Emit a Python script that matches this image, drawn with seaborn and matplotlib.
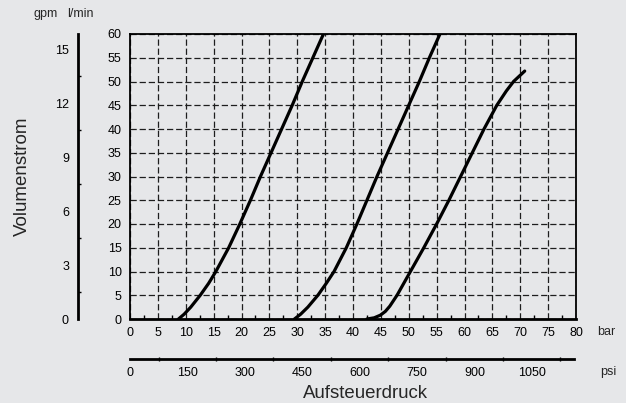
import matplotlib
matplotlib.use("Agg")
import matplotlib.pyplot as plt
import seaborn as sns
import pandas as pd
from matplotlib.ticker import MultipleLocator

# ---- data ----
c1_flow = [0, 1, 2.5, 5, 7.5, 10, 15, 20, 25, 30, 35, 40, 45, 50, 55, 60]
c1_bar = [8.7, 9.7, 10.9, 12.6, 14.1, 15.4, 17.7, 19.7, 21.6, 23.4, 25.3, 27.2, 29.1, 30.9, 32.8, 34.7]
c2_flow = [0, 1, 2.5, 5, 7.5, 10, 15, 20, 25, 30, 35, 40, 45, 50, 55, 60]
c2_bar = [29.5, 30.6, 31.9, 33.7, 35.2, 36.6, 38.8, 40.7, 42.5, 44.3, 46.2, 48.1, 50.0, 51.9, 53.7, 55.6]
c3_flow = [0, 0.25, 0.8, 1.6, 2.7, 5, 7.5, 10, 15, 20, 25, 30, 35, 40, 45, 48, 50, 52.2]
c3_bar = [42.5, 43.8, 44.9, 45.8, 46.6, 47.9, 49.1, 50.3, 52.7, 55.0, 57.2, 59.3, 61.4, 63.5, 65.8, 67.5, 68.8, 70.8]

bar_ticks = list(range(0, 85, 5))
flow_ticks = list(range(0, 65, 5))
gpm_ticks = [0, 3, 6, 9, 12, 15]
psi_ticks = [0, 150, 300, 450, 600, 750, 900, 1050]

LMIN_PER_GPM = 3.785
PSI_PER_BAR = 14.5038

df = pd.concat([
    pd.DataFrame({"bar": c1_bar, "flow": c1_flow, "curve": "A"}),
    pd.DataFrame({"bar": c2_bar, "flow": c2_flow, "curve": "B"}),
    pd.DataFrame({"bar": c3_bar, "flow": c3_flow, "curve": "C"}),
], ignore_index=True)

sns.set_theme(style="white")
bg = "#e6e7e9"
plt.rcParams["font.family"] = ["Liberation Sans", "DejaVu Sans"]
plt.rcParams["figure.facecolor"] = bg
plt.rcParams["axes.facecolor"] = bg

W, H = 626, 403
fig = plt.figure(figsize=(W / 100, H / 100), dpi=100)

L, R, B, T = 130 / W, 576 / W, 1 - 319 / H, 1 - 34 / H
ax = fig.add_axes([L, B, R - L, T - B])
ax.set_facecolor(bg)

sns.lineplot(data=df, x="bar", y="flow", hue="curve", units="curve",
             estimator=None, sort=False, palette=["black"] * 3,
             linewidth=2.3, legend=False, ax=ax, zorder=5,
             solid_joinstyle="round")

ax.set_xlim(0, 80)
ax.set_ylim(0, 60)
ax.set_xticks(bar_ticks)
ax.set_yticks(flow_ticks)
ax.set_xticklabels([str(v) for v in bar_ticks])
ax.set_yticklabels([str(v) for v in flow_ticks])
ax.xaxis.set_minor_locator(MultipleLocator(2.5))
ax.grid(True, which="major", color="#1e1e1e", linewidth=0.9, linestyle=(0, (5, 2.3)))
ax.tick_params(axis="x", which="major", direction="in", length=0, pad=6, labelsize=9, colors="black")
ax.tick_params(axis="x", which="minor", direction="in", length=3, width=1, color="black", bottom=True)
ax.tick_params(axis="y", which="major", length=0, pad=6, labelsize=9, colors="black")
for s in ax.spines.values():
    s.set_color("black")
    s.set_linewidth(1.3)
ax.spines["bottom"].set_linewidth(2)
ax.set_xlabel("")
ax.set_ylabel("")

# gpm axis (left)
gx = fig.add_axes([78 / W, B, 0.0001, T - B])
gx.set_facecolor("none")
gx.set_ylim(0, 60 / LMIN_PER_GPM)
gx.set_yticks(gpm_ticks)
gx.set_yticklabels([str(v) for v in gpm_ticks])
gx.yaxis.set_minor_locator(MultipleLocator(1.5))
gx.set_xticks([])
for k in ["top", "right", "bottom"]:
    gx.spines[k].set_visible(False)
gx.spines["left"].set_linewidth(2)
gx.spines["left"].set_color("black")
gx.tick_params(axis="y", which="major", direction="in", length=4.5, width=1, pad=6.5, labelsize=9, colors="black")
gx.tick_params(axis="y", which="minor", direction="in", length=2.5, width=1, color="black", left=True)

# psi axis (bottom)
px = fig.add_axes([L, 1 - 359 / H, (574 - 130) / W, 0.0001])
px.set_facecolor("none")
px.set_xlim(0, 80 * PSI_PER_BAR)
px.set_xticks(psi_ticks)
px.set_xticklabels([str(v) for v in psi_ticks])
px.xaxis.set_minor_locator(MultipleLocator(75))
px.set_yticks([])
for k in ["top", "right", "left"]:
    px.spines[k].set_visible(False)
px.spines["bottom"].set_linewidth(2)
px.spines["bottom"].set_color("black")
px.tick_params(axis="x", which="major", direction="inout", length=6, width=1, pad=2.5, labelsize=9, colors="black")
px.tick_params(axis="x", which="minor", direction="inout", length=3, width=1, color="black", bottom=True)

# texts
fs = 9
fig.text(46 / W, 1 - 14 / H, "gpm", ha="center", va="center", fontsize=fs)
fig.text(80 / W, 1 - 14 / H, "l/min", ha="center", va="center", fontsize=fs)
fig.text(606 / W, 1 - 332 / H, "bar", ha="center", va="center", fontsize=fs)
fig.text(608 / W, 1 - 372 / H, "psi", ha="center", va="center", fontsize=fs)
fig.text(365 / W, 1 - 394 / H, "Aufsteuerdruck", ha="center", va="center", fontsize=13.4)
fig.text(22 / W, 1 - 176 / H, "Volumenstrom", ha="center", va="center", fontsize=13.5, rotation=90)

fig.savefig("out.png", dpi=100, facecolor=bg)
